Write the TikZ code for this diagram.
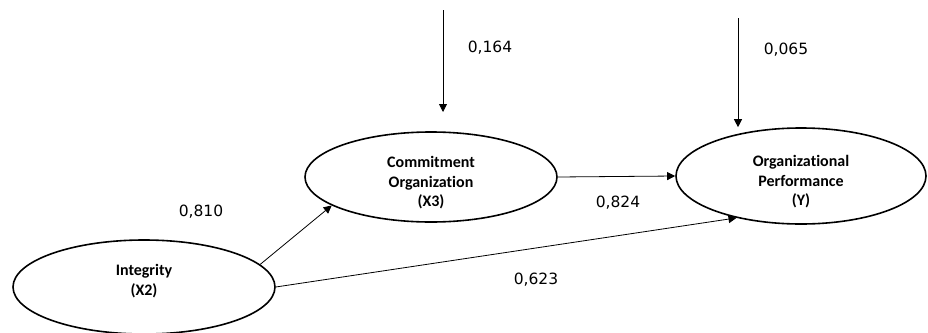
\documentclass[tikz,border=0pt]{standalone}
\usepackage{fontspec}
\setmainfont{DejaVu Sans}
\newfontfamily\calibri[Ligatures=NoCommon]{Carlito}
\usetikzlibrary{shapes, arrows.meta}

\begin{document}
\begin{tikzpicture}[x=1pt,y=-1pt,
	latent/.style={ellipse, draw, line width=1.6pt, inner sep=0pt},
	cname/.style={align=center, inner sep=0pt,
		font=\calibri\bfseries\fontsize{16}{19.5}\selectfont},
	path/.style={-{Triangle[length=8pt,width=8pt]}, line width=0.8pt},
	coef/.style={font=\fontsize{15.5}{18}\selectfont}
	]
	\useasboundingbox (0,0) rectangle (928,332);
	% constructs
	\node[latent, minimum width=262pt, minimum height=94pt,
		label={[cname, yshift=6pt]center:{Integrity\\(X2)}}] (integ) at (144,287) {};
	\node[latent, minimum width=252pt, minimum height=90pt,
		label={[cname, yshift=-6pt]center:{Commitment\\Organization\\(X3)}}] (commit) at (431,177) {};
	\node[latent, minimum width=250pt, minimum height=96pt,
		label={[cname, yshift=-6pt]center:{Organizational\\Performance\\(Y)}}] (org) at (801,176) {};
	% error terms
	\coordinate (e3) at (443,10);
	\coordinate (ey) at (738,18);
	\draw[path] (e3) -- ++(0,102);
	\draw[path] (ey) -- (ey |- org.north);
	% paths
	\draw[path] (integ.11) -- (commit.196);
	\draw[path] (commit.east) -- (org.west);
	\draw[path] (integ.east) -- (org.213);
	% coefficients
	\node[coef] (c3) at (490,48) {0,164};
	\node[coef] (cy) at (786,50) {0,065};
	\node[coef] (c32) at (201,212) {0,810};
	\node[coef] (cy3) at (618,203) {0,824};
	\node[coef] (cy2) at (536,280) {0,623};
\end{tikzpicture}
\end{document}
